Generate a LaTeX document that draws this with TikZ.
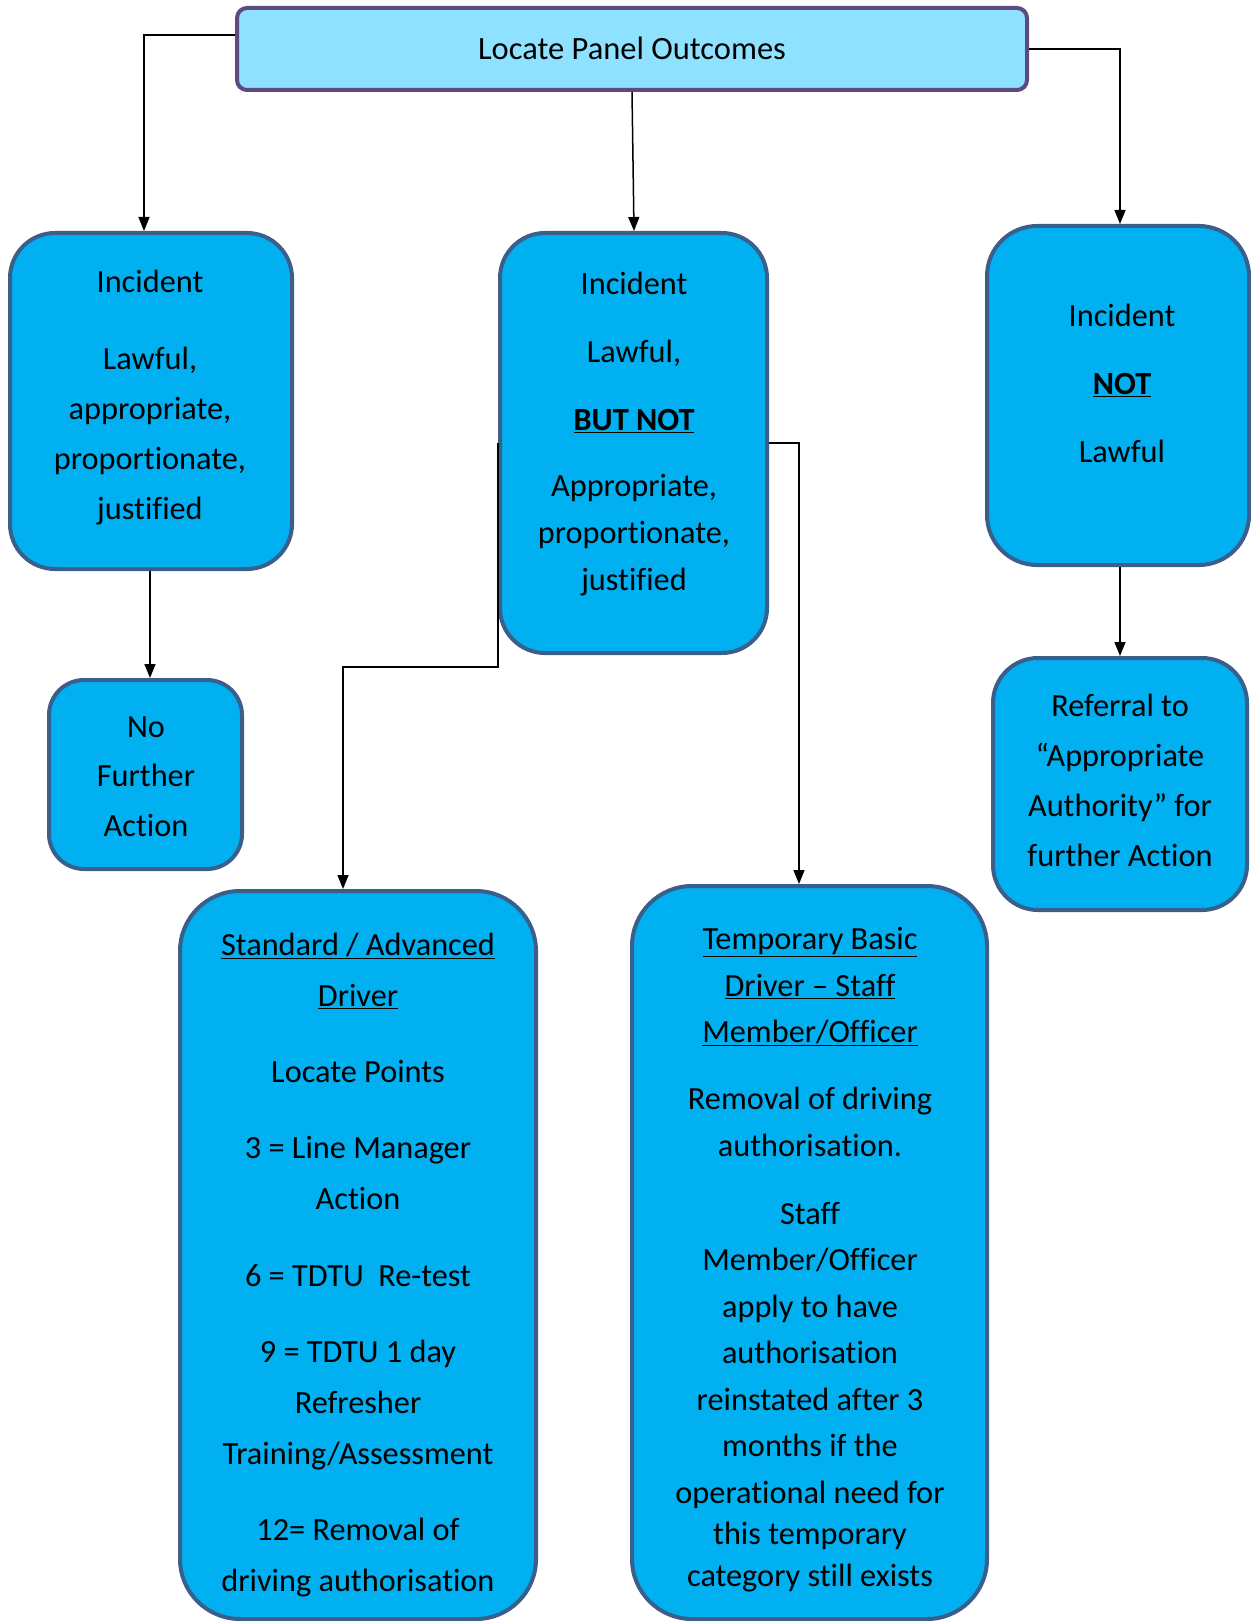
\documentclass[tikz,border=0pt]{standalone}
\usepackage{fontspec}
\setmainfont{Carlito}[Ligatures=NoCommon]
\usetikzlibrary{arrows.meta}
\definecolor{boxfill}{RGB}{0,176,240}
\definecolor{boxline}{RGB}{58,95,139}
\definecolor{topfill}{RGB}{142,226,255}
\definecolor{topline}{RGB}{94,74,124}
\begin{document}
\begin{tikzpicture}[x=1pt,y=-1pt,
  box/.style={draw=boxline, fill=boxfill, line width=4pt, inner sep=0pt},
  txt/.style={align=center, inner sep=0pt, text=black},
  conn/.style={draw=black, line width=1.5pt, -{Triangle[length=14pt,width=11pt]}},
  link/.style={draw=black, line width=1.5pt}
]
\useasboundingbox (0,0) rectangle (1250,1621);

% boxes
\node[draw=topline, fill=topfill, line width=4pt, rounded corners=10pt,
      minimum width=790pt, minimum height=82pt, inner sep=0pt,
      font=\fontsize{32.5}{36}\selectfont] (top) at (632,49) {\raisebox{2pt}{Locate Panel Outcomes}};
\node[box, rounded corners=45pt, minimum width=282pt, minimum height=336pt] (L1) at (151,401) {};
\node[box, rounded corners=35pt, minimum width=193pt, minimum height=189pt] (NFA) at (145.5,774.5) {};
\node[box, rounded corners=45pt, minimum width=267pt, minimum height=420pt] (M1) at (633.5,443) {};
\node[box, rounded corners=50pt, minimum width=262pt, minimum height=339pt] (R1) at (1118,395.5) {};
\node[box, rounded corners=45pt, minimum width=254pt, minimum height=252pt] (R2) at (1120,784) {};
\node[box, rounded corners=60pt, minimum width=356pt, minimum height=728pt] (SA) at (358,1255) {};
\node[box, rounded corners=60pt, minimum width=355pt, minimum height=733pt] (TB) at (809.5,1252.5) {};

% texts
\node[txt, font=\fontsize{32.3}{50}\selectfont] (L1t) at (150,397.5)
  {Incident\\[27pt] Lawful,\\ appropriate,\\ proportionate,\\ justified};
\node[txt, font=\fontsize{32.3}{49.5}\selectfont] (NFAt) at (146,776.5)
  {No\\ Further\\ Action};
\node[txt, font=\fontsize{32.3}{47}\selectfont] (M1t) at (634,434)
  {Incident\\[21pt] Lawful,\\[21pt] \textbf{\underline{BUT NOT}}\\[19pt] Appropriate,\\ proportionate,\\ justified};
\node[txt, font=\fontsize{32.3}{48}\selectfont] (R1t) at (1122,383.5)
  {Incident\\[20pt] \textbf{\underline{NOT}}\\[20pt] Lawful};
\node[txt, font=\fontsize{32.3}{50}\selectfont] (R2t) at (1120,780.5)
  {Referral to\\ “Appropriate\\ Authority” for\\ further Action};
\node[txt, font=\fontsize{32.3}{51}\selectfont] (SAt) at (358,1265)
  {\underline{Standard / Advanced}\\ \underline{Driver}\\[25pt] Locate Points\\[25pt]
   3 = Line Manager\\ Action\\[26pt] 6 = TDTU\ \ Re-test\\[25pt] 9 = TDTU 1 day\\ Refresher\\ Training/Assessment\\[25pt]
   12= Removal of\\ driving authorisation};
\node[txt, font=\fontsize{32.3}{46.5}\selectfont] (TBt) at (810,1259.5)
  {\underline{Temporary Basic}\\ \underline{Driver – Staff}\\ \underline{Member/Officer}\\[20.5pt]
   Removal of driving\\ authorisation.\\[21.5pt] Staff\\ Member/Officer\\ apply to have\\ authorisation\\
   reinstated after 3\\ months if the\\ operational need for\\[-5pt] this temporary\\[-5pt] category still exists};

% connectors
\draw[conn] (top.west |- 0,35) -| (L1.north -| 144,0);
\draw[conn] (top.south -| 632,0) -- (M1.north -| 634,0);
\draw[conn] (top.east |- 0,49) -| (R1.north -| 1120,0);
\draw[conn] (L1.south -| 150,0) -- (NFA.north -| 150,0);
\draw[conn] (R1.south -| 1120,0) -- (R2.north -| 1120,0);
\draw[conn] (M1.west) -- (M1.west |- 0,667) -| (SA.north -| 343,0);
\draw[conn] (M1.east) -| (TB.north -| 799,0);
\end{tikzpicture}
\end{document}
